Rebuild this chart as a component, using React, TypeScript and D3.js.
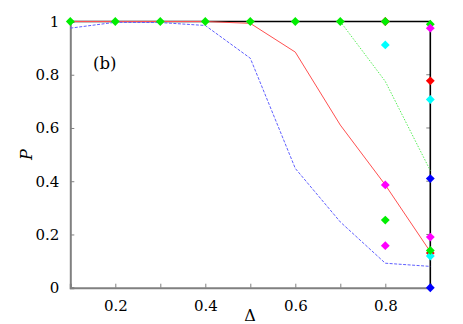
import React, { useEffect, useRef } from "react";
import * as d3 from "d3";

// Delta values along x
const deltas = [0.1, 0.2, 0.3, 0.4, 0.5, 0.6, 0.7, 0.8, 0.9];
const blueLine = [0.975, 0.997, 0.996, 0.985, 0.862, 0.448, 0.247, 0.092, 0.08];
const redLine = [1, 1, 1, 1, 0.993, 0.885, 0.611, 0.386, 0.135];
const greenDeltas = [0.7, 0.8, 0.9];
const greenLine = [1, 0.775, 0.44];

// scattered diamond markers [delta, P]
const redPts = [[0.8, 1.0], [0.9, 0.777], [0.9, 0.13]];
const cyanPts = [[0.8, 0.912], [0.9, 0.707], [0.9, 0.119]];
const magentaPts = [[0.8, 0.386], [0.8, 0.158], [0.9, 0.975], [0.9, 0.19]];
const greenPts = [
  [0.1, 1], [0.2, 1], [0.3, 1], [0.4, 1], [0.5, 1], [0.6, 1], [0.7, 1], [0.8, 1],
  [0.8, 0.254], [0.9, 0.99], [0.9, 0.14],
];
const bluePts = [[0.9, 0.41], [0.9, 0.0]];

const xTicks = [0.1, 0.2, 0.3, 0.4, 0.5, 0.6, 0.7, 0.8, 0.9];
const xLabels = [0.2, 0.4, 0.6, 0.8];
const yTicks = [0, 0.2, 0.4, 0.6, 0.8, 1];

const font = '"DejaVu Serif", serif';

const App = () => {
  const ref = useRef<SVGSVGElement>(null);

  useEffect(() => {
    const left = 70.3,
      right = 430.3,
      top = 21.5,
      bottom = 287.7;

    const svg = d3.select(ref.current);
    svg.selectAll("*").remove();

    const x = d3.scaleLinear().domain([0.1, 0.9]).range([left, right]);
    const y = d3.scaleLinear().domain([0, 1]).range([bottom, top]);

    // bottom axis
    const xAxis = d3
      .axisBottom(x)
      .tickValues(xTicks)
      .tickSize(-4)
      .tickPadding(13)
      .tickFormat((d: any) => (xLabels.some((v) => Math.abs(v - d) < 1e-9) ? d3.format(".1f")(d) : ""));
    const gx = svg.append("g").attr("transform", `translate(0,${bottom})`).call(xAxis);
    gx.attr("font-family", font).attr("font-size", 15);
    gx.select(".domain").attr("stroke", "#808080").attr("stroke-width", 2);
    gx.selectAll(".tick line").attr("stroke", "#808080").attr("stroke-width", 1);
    gx.selectAll("text").attr("fill", "#000");

    // left axis
    const yAxis = d3
      .axisLeft(y)
      .tickValues(yTicks)
      .tickSize(-4)
      .tickPadding(11)
      .tickFormat((d: any) => (d === 0 || d === 1 ? String(d) : d3.format(".1f")(d)));
    const gy = svg.append("g").attr("transform", `translate(${left},0)`).call(yAxis);
    gy.attr("font-family", font).attr("font-size", 15);
    gy.select(".domain").attr("stroke", "#808080").attr("stroke-width", 2);
    gy.selectAll(".tick line").attr("stroke", "#808080").attr("stroke-width", 1);
    gy.selectAll("text").attr("fill", "#000");

    // mirrored ticks on the right
    svg
      .append("g")
      .selectAll("line")
      .data(yTicks.slice(1, -1))
      .enter()
      .append("line")
      .attr("x1", right)
      .attr("x2", right - 4)
      .attr("y1", (d) => y(d))
      .attr("y2", (d) => y(d))
      .attr("stroke", "#808080");

    // top and right border
    svg
      .append("path")
      .attr("d", `M${left},${top}H${right}V${bottom}`)
      .attr("fill", "none")
      .attr("stroke", "#000")
      .attr("stroke-width", 1.6);

    const line = d3
      .line<number>()
      .x((d, i) => x(deltas[i]))
      .y((d) => y(d));
    const gline = d3
      .line<number>()
      .x((d, i) => x(greenDeltas[i]))
      .y((d) => y(d));

    svg
      .append("path")
      .attr("d", gline(greenLine))
      .attr("fill", "none")
      .attr("stroke", "#55ee55")
      .attr("stroke-width", 1)
      .attr("stroke-dasharray", "1.5,1.5");
    svg
      .append("path")
      .attr("d", line(redLine))
      .attr("fill", "none")
      .attr("stroke", "#ff5050")
      .attr("stroke-width", 1);
    svg
      .append("path")
      .attr("d", line(blueLine))
      .attr("fill", "none")
      .attr("stroke", "#6060ff")
      .attr("stroke-width", 1)
      .attr("stroke-dasharray", "3,1.5");

    const diamond = d3.symbol().type(d3.symbolDiamond2).size(50);
    const drawPts = (pts: number[][], color: string) => {
      svg
        .append("g")
        .selectAll("path")
        .data(pts)
        .enter()
        .append("path")
        .attr("d", diamond)
        .attr("transform", (d) => `translate(${x(d[0])},${y(d[1])})`)
        .attr("fill", color);
    };
    drawPts(redPts, "#ff0000");
    drawPts(cyanPts, "#00ffff");
    drawPts(greenPts, "#00ee00");
    drawPts(magentaPts, "#ff00ff");
    drawPts(bluePts, "#0000ff");

    const labels = svg.append("g").attr("font-family", font).attr("fill", "#000");

    labels.append("text").attr("x", 93).attr("y", 69).attr("font-size", 16.5).text("(b)");

    labels
      .append("text")
      .attr("x", 250)
      .attr("y", 321)
      .attr("text-anchor", "middle")
      .attr("font-size", 16)
      .text("Δ");

    labels
      .append("text")
      .attr("transform", `translate(32,${(top + bottom) / 2}) rotate(-90)`)
      .attr("text-anchor", "middle")
      .attr("font-style", "italic")
      .attr("font-size", 16)
      .text("P");
  }, []);

  return (
    <div style={{ position: "absolute", left: 0, top: 0 }}>
      <svg ref={ref} width="463" height="324" style={{ display: "block", background: "#fff" }}></svg>
    </div>
  );
};

export default App;
